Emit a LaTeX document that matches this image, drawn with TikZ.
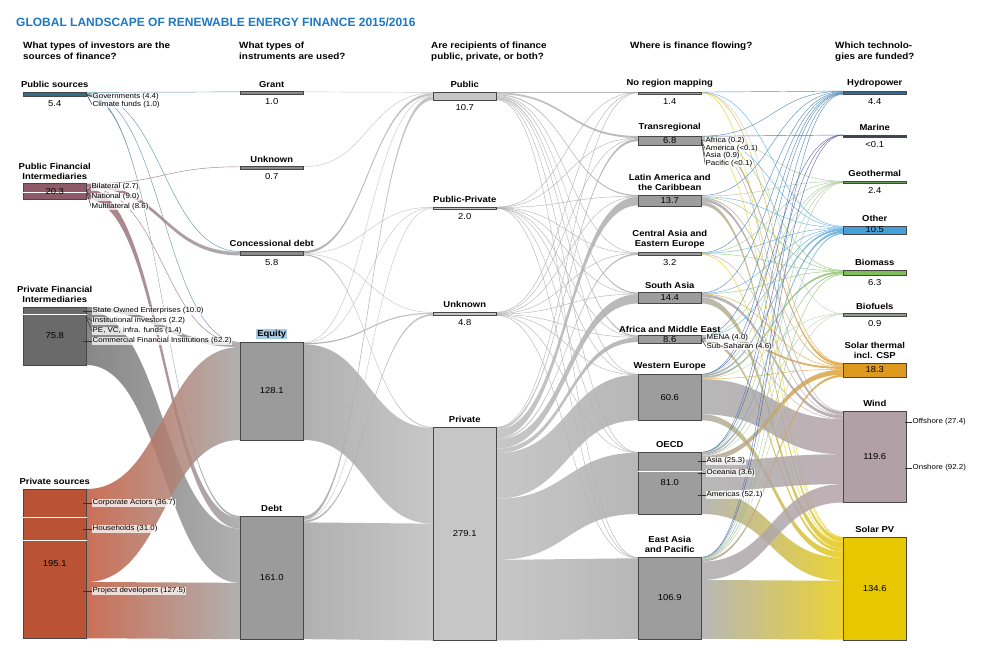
\documentclass[tikz,border=0pt]{standalone}
\usepackage{fontspec}
\setmainfont{Liberation Sans}[FakeStretch=1.1]
\newfontfamily\titlefont{Liberation Sans}
\usetikzlibrary{positioning}

\definecolor{titleblue}{HTML}{1E78C2}
\definecolor{eqhl}{HTML}{A8CBE5}
\definecolor{psbar}{HTML}{2F6E85}     \definecolor{psflow}{HTML}{4D8599}
\definecolor{pfibar}{HTML}{8E5A6A}    \definecolor{pfiflow}{HTML}{9B6676}
\definecolor{prfibar}{HTML}{6A6A6A}   \definecolor{prfiflow}{HTML}{737373}
\definecolor{prsbar}{HTML}{BA5234}    \definecolor{prsflow}{HTML}{C2573A}
\definecolor{thinbar}{HTML}{8A8A8A}
\definecolor{midbar}{HTML}{9B9B9B}    \definecolor{midflow}{HTML}{A3A3A3}
\definecolor{lightbar}{HTML}{C6C6C6}  \definecolor{lightflow}{HTML}{BEBEBE}
\definecolor{regbar}{HTML}{9D9D9D}    \definecolor{regflow}{HTML}{ABABAB}
\definecolor{hydrobar}{HTML}{2C6A98}  \definecolor{hydroflow}{HTML}{3F7EB2}
\definecolor{marinebar}{HTML}{3E4257} \definecolor{marineflow}{HTML}{5552A6}
\definecolor{geobar}{HTML}{6A9A58}    \definecolor{geoflow}{HTML}{A4C692}
\definecolor{otherbar}{HTML}{45A0DA}  \definecolor{otherflow}{HTML}{55AAE0}
\definecolor{biomassbar}{HTML}{7DBE5A}\definecolor{biomassflow}{HTML}{8DC46C}
\definecolor{biofuelbar}{HTML}{8E9C8C}\definecolor{biofuelflow}{HTML}{BCD0AE}
\definecolor{solthbar}{HTML}{DE9A1E}  \definecolor{solthflow}{HTML}{E2A434}
\definecolor{windbar}{HTML}{B1A1A7}   \definecolor{windflow}{HTML}{B3A3A9}
\definecolor{solpvbar}{HTML}{E7C800}  \definecolor{solpvflow}{HTML}{E8CB10}

\pgfdeclarelayer{flows}
\pgfsetlayers{flows,main}

\def\pxu{0.765}
\def\barw{63.5}

% name, left x, top y, value, bar colour, flow colour
\newcommand{\mkbar}[7][2.4]{%
  \expandafter\xdef\csname xl@#2\endcsname{#3}%
  \pgfmathsetmacro\barr{#3+\barw}%
  \expandafter\xdef\csname xr@#2\endcsname{\barr}%
  \expandafter\xdef\csname yo@#2\endcsname{#4}%
  \expandafter\xdef\csname yi@#2\endcsname{#4}%
  \expandafter\xdef\csname fc@#2\endcsname{#7}%
  \pgfmathsetmacro\bh{max(#5*\pxu,#1)}%
  \node[bar, fill=#6, minimum height=\bh pt, anchor=north west] (#2) at (#3,#4) {};%
}

\newcommand{\flow}[4][t]{%
  \pgfmathsetmacro\fh{#4*\pxu}%
  \edef\xa{\csname xr@#2\endcsname}\edef\ya{\csname yo@#2\endcsname}%
  \edef\xb{\csname xl@#3\endcsname}\edef\yb{\csname yi@#3\endcsname}%
  \pgfmathsetmacro\yaa{\ya+\fh}\pgfmathsetmacro\ybb{\yb+\fh}%
  \pgfmathsetmacro\xm{(\xa+\xb)/2}%
  \edef\ca{\csname fc@#2\endcsname}\edef\cb{\csname fc@#3\endcsname}%
  \pgfmathtruncatemacro\isthin{#4<1.3}%
  \ifnum\isthin=1
    \if#1s\edef\cl{\ca}\else\edef\cl{\cb}\fi
    \pgfmathsetmacro\yam{\ya+\fh/2}\pgfmathsetmacro\ybm{\yb+\fh/2}%
    \draw[thinflow, draw=\cl] (\xa,\yam) .. controls (\xm,\yam) and (\xm,\ybm) .. (\xb,\ybm);
  \else
    \shade[band, left color=\ca, right color=\cb] (\xa,\ya) .. controls (\xm,\ya) and (\xm,\yb) .. (\xb,\yb) -- (\xb,\ybb) .. controls (\xm,\ybb) and (\xm,\yaa) .. (\xa,\yaa) -- cycle;
  \fi
  \expandafter\xdef\csname yo@#2\endcsname{\yaa}%
  \expandafter\xdef\csname yi@#3\endcsname{\ybb}%
}

\tikzset{
  bar/.style={draw=black!72, line width=0.5pt, minimum width=\barw pt, inner sep=0pt, outer sep=0pt},
  band/.style={fill opacity=0.85},
  thinflow/.style={line width=0.45pt, draw opacity=0.85},
  lab/.style={font=\bfseries\fontsize{8.6}{10}\selectfont, align=center, inner sep=1pt},
  val/.style={font=\fontsize{8.6}{10}\selectfont, inner sep=1pt},
  sub/.style={font=\fontsize{7.2}{8}\selectfont, anchor=west, inner sep=0.5pt, fill=white, fill opacity=0.75, text opacity=1},
  tick/.style={line width=0.5pt, black!80},
  ask/.style={font=\bfseries\fontsize{9}{11}\selectfont, align=left, anchor=north west, inner sep=0pt},
  split/.style={white, line width=0.8pt},
}

\begin{document}
\begin{tikzpicture}[x=1pt,y=-1pt]
    \begin{pgfonlayer}{flows}
        \fill[white] (0,0) rectangle (981,652);
    \end{pgfonlayer}
    \useasboundingbox (0,0) rectangle (981,652);

    \node[anchor=base west, inner sep=0, text=titleblue, font={\titlefont\bfseries\fontsize{12}{14}\selectfont}] (title) at (16,27)
        {GLOBAL LANDSCAPE OF RENEWABLE ENERGY FINANCE 2015/2016};
    \node[ask] (q1) at (23,42) {What types of investors are the\\sources of finance?};
    \node[ask] (q2) at (239,42) {What types of\\instruments are used?};
    \node[ask] (q3) at (431,42) {Are recipients of finance\\public, private, or both?};
    \node[ask] (q4) at (630,42) {Where is finance flowing?};
    \node[ask] (q5) at (835,42) {Which technolo-\\gies are funded?};

    % sources
    \mkbar{ps}{23}{92}{5.4}{psbar}{psflow}
    \mkbar{pfi}{23}{183.5}{20.3}{pfibar}{pfiflow}
    \mkbar{prfi}{23}{307}{75.8}{prfibar}{prfiflow}
    \mkbar{prs}{23}{489}{195.1}{prsbar}{prsflow}
    % instruments
    \mkbar{grant}{240}{91.5}{1.0}{thinbar}{midflow}
    \mkbar{unkb}{240}{166.5}{0.7}{thinbar}{midflow}
    \mkbar{conc}{240}{251}{5.8}{thinbar}{midflow}
    \mkbar{equity}{240}{342}{128.1}{midbar}{midflow}
    \mkbar{debt}{240}{516}{161.0}{midbar}{midflow}
    % recipients
    \mkbar{public}{433}{92}{10.7}{lightbar}{lightflow}
    \mkbar{pubpriv}{433}{207}{2.0}{lightbar}{lightflow}
    \mkbar{unkc}{433}{312}{4.8}{lightbar}{lightflow}
    \mkbar{private}{433}{427}{279.1}{lightbar}{lightflow}
    % regions
    \mkbar{noreg}{638}{92}{1.4}{regbar}{regflow}
    \mkbar[9]{trans}{638}{136}{6.8}{regbar}{regflow}
    \mkbar[11]{latam}{638}{195}{13.7}{regbar}{regflow}
    \mkbar{casia}{638}{252.5}{3.2}{regbar}{regflow}
    \mkbar[10.5]{sasia}{638}{292.5}{14.4}{regbar}{regflow}
    \mkbar[7.7]{afme}{638}{335.5}{8.6}{regbar}{regflow}
    \mkbar{weur}{638}{374}{60.6}{regbar}{regflow}
    \mkbar{oecd}{638}{452}{81.0}{regbar}{regflow}
    \mkbar{eapac}{638}{557}{106.9}{regbar}{regflow}
    % technologies
    \mkbar{hydro}{843}{91}{4.4}{hydrobar}{hydroflow}
    \mkbar{marine}{843}{135}{0.05}{marinebar}{marineflow}
    \mkbar{geo}{843}{181}{2.4}{geobar}{geoflow}
    \mkbar{other}{843}{226}{10.5}{otherbar}{otherflow}
    \mkbar{biomass}{843}{270}{6.3}{biomassbar}{biomassflow}
    \mkbar{biofuel}{843}{313.5}{0.9}{biofuelbar}{biofuelflow}
    \mkbar{solth}{843}{363}{18.3}{solthbar}{solthflow}
    \mkbar{wind}{843}{411}{119.6}{windbar}{windflow}
    \mkbar{solpv}{843}{537}{134.6}{solpvbar}{solpvflow}

    \begin{pgfonlayer}{flows}
    \foreach \src/\tgt/\val in {ps/grant/1.0, ps/conc/1.2, ps/equity/0.6, ps/debt/2.6,
        pfi/unkb/0.7, pfi/conc/4.6, pfi/equity/1.0, pfi/debt/14.0,
        prfi/equity/5.0, prfi/debt/70.8, prs/equity/121.5, prs/debt/73.6}
        {\flow[s]{\src}{\tgt}{\val}}
    \foreach \src/\tgt/\val in {grant/public/1.0, unkb/public/0.7,
        conc/public/3.0, conc/pubpriv/0.5, conc/unkc/1.0, conc/private/1.3,
        equity/public/1.0, equity/pubpriv/0.5, equity/unkc/1.5, equity/private/125.1,
        debt/public/5.0, debt/pubpriv/1.0, debt/unkc/2.3, debt/private/152.7}
        {\flow{\src}{\tgt}{\val}}
    \foreach \src/\tgt/\val in {public/noreg/0.5, public/trans/2.5, public/latam/1.5, public/casia/0.8, public/sasia/1.5,
        public/afme/1.8, public/weur/0.6, public/oecd/0.5, public/eapac/1.0,
        pubpriv/noreg/0.2, pubpriv/trans/0.3, pubpriv/latam/0.3, pubpriv/casia/0.2, pubpriv/sasia/0.3,
        pubpriv/afme/0.3, pubpriv/weur/0.1, pubpriv/oecd/0.1, pubpriv/eapac/0.2,
        unkc/noreg/0.4, unkc/trans/1.0, unkc/latam/0.6, unkc/casia/0.4, unkc/sasia/0.6,
        unkc/afme/0.6, unkc/weur/0.4, unkc/oecd/0.4, unkc/eapac/0.4,
        private/noreg/0.3, private/trans/3.0, private/latam/11.3, private/casia/1.8, private/sasia/12.0,
        private/afme/5.9, private/weur/59.5, private/oecd/80.0, private/eapac/105.3}
        {\flow{\src}{\tgt}{\val}}
    \foreach \src/\tgt/\val in {noreg/hydro/0.2, noreg/other/0.6, noreg/biofuel/0.1, noreg/solth/0.2, noreg/solpv/0.3,
        trans/hydro/0.4, trans/marine/0.01, trans/geo/0.2, trans/other/1.0, trans/biomass/0.3, trans/solth/3.4, trans/wind/0.8, trans/solpv/0.7,
        latam/hydro/1.0, latam/geo/0.8, latam/other/1.0, latam/biomass/0.6, latam/solth/1.3, latam/wind/4.0, latam/solpv/5.0,
        casia/hydro/0.3, casia/geo/0.2, casia/other/0.8, casia/biomass/0.3, casia/wind/0.8, casia/solpv/0.8,
        sasia/hydro/0.8, sasia/other/0.5, sasia/biomass/0.6, sasia/solth/0.3, sasia/wind/4.0, sasia/solpv/8.2,
        afme/hydro/0.4, afme/geo/0.4, afme/other/0.2, afme/solth/2.5, afme/wind/1.0, afme/solpv/4.1,
        weur/hydro/0.4, weur/marine/0.01, weur/geo/0.3, weur/other/2.2, weur/biomass/2.5, weur/biofuel/0.3, weur/solth/1.0, weur/wind/45.9, weur/solpv/8.0,
        oecd/hydro/0.4, oecd/marine/0.05, oecd/geo/0.3, oecd/other/2.8, oecd/biomass/1.3, oecd/biofuel/0.3, oecd/solth/6.6, oecd/wind/39.1, oecd/solpv/30.15,
        eapac/hydro/0.5, eapac/marine/0.01, eapac/geo/0.2, eapac/other/1.4, eapac/biomass/0.7, eapac/biofuel/0.2, eapac/solth/3.0, eapac/wind/24.0, eapac/solpv/76.9}
        {\flow{\src}{\tgt}{\val}}
    \end{pgfonlayer}

    \draw[split] ([yshift=-9pt]pfi.north west) -- ([yshift=-9pt]pfi.north east);
    \draw[split] ([yshift=-7.7pt]prfi.north west) -- ([yshift=-7.7pt]prfi.north east);
    \draw[split] ([yshift=-28.1pt]prs.north west) -- ([yshift=-28.1pt]prs.north east);
    \draw[split] ([yshift=-51.8pt]prs.north west) -- ([yshift=-51.8pt]prs.north east);
    \draw[split] ([yshift=-19.4pt]oecd.north west) -- ([yshift=-19.4pt]oecd.north east);

    \node[lab, above=3pt of ps] (ps-l) {Public sources};
    \node[val, below=3pt of ps] (ps-v) {5.4};
    \node[lab, above=3pt of pfi] (pfi-l) {Public Financial\\Intermediaries};
    \node[val] (pfi-v) at (pfi.center) {20.3};
    \node[lab, above=3pt of prfi] (prfi-l) {Private Financial\\Intermediaries};
    \node[val] (prfi-v) at (prfi.center) {75.8};
    \node[lab, above=3pt of prs] (prs-l) {Private sources};
    \node[val] (prs-v) at (prs.center) {195.1};

    \node[lab, above=3pt of grant] (grant-l) {Grant};
    \node[val, below=3pt of grant] (grant-v) {1.0};
    \node[lab, above=3pt of unkb] (unkb-l) {Unknown};
    \node[val, below=3pt of unkb] (unkb-v) {0.7};
    \node[lab, above=3pt of conc] (conc-l) {Concessional debt};
    \node[val, below=3pt of conc] (conc-v) {5.8};
    \node[lab, above=3pt of equity, fill=eqhl] (equity-l) {Equity};
    \node[val] (equity-v) at (equity.center) {128.1};
    \node[lab, above=3pt of debt] (debt-l) {Debt};
    \node[val] (debt-v) at (debt.center) {161.0};

    \node[lab, above=3pt of public] (public-l) {Public};
    \node[val, below=3pt of public] (public-v) {10.7};
    \node[lab, above=3pt of pubpriv] (pubpriv-l) {Public-Private};
    \node[val, below=3pt of pubpriv] (pubpriv-v) {2.0};
    \node[lab, above=3pt of unkc] (unkc-l) {Unknown};
    \node[val, below=3pt of unkc] (unkc-v) {4.8};
    \node[lab, above=3pt of private] (private-l) {Private};
    \node[val] (private-v) at (private.center) {279.1};

    \node[lab, above=3pt of noreg] (noreg-l) {No region mapping};
    \node[val, below=3pt of noreg] (noreg-v) {1.4};
    \node[lab, above=3pt of trans] (trans-l) {Transregional};
    \node[val] (trans-v) at (trans.center) {6.8};
    \node[lab, above=3pt of latam] (latam-l) {Latin America and\\the Caribbean};
    \node[val] (latam-v) at (latam.center) {13.7};
    \node[lab, above=3pt of casia] (casia-l) {Central Asia and\\Eastern Europe};
    \node[val, below=3pt of casia] (casia-v) {3.2};
    \node[lab, above=3pt of sasia] (sasia-l) {South Asia};
    \node[val] (sasia-v) at (sasia.center) {14.4};
    \node[lab, above=2pt of afme] (afme-l) {Africa and Middle East};
    \node[val] (afme-v) at (afme.center) {8.6};
    \node[lab, above=3pt of weur] (weur-l) {Western Europe};
    \node[val] (weur-v) at (weur.center) {60.6};
    \node[lab, above=3pt of oecd] (oecd-l) {OECD};
    \node[val] (oecd-v) at (oecd.center) {81.0};
    \node[lab, above=3pt of eapac] (eapac-l) {East Asia\\and Pacific};
    \node[val] (eapac-v) at (eapac.center) {106.9};

    \node[lab, above=3pt of hydro] (hydro-l) {Hydropower};
    \node[val, below=3pt of hydro] (hydro-v) {4.4};
    \node[lab, above=3pt of marine] (marine-l) {Marine};
    \node[val, below=3pt of marine] (marine-v) {<0.1};
    \node[lab, above=3pt of geo] (geo-l) {Geothermal};
    \node[val, below=3pt of geo] (geo-v) {2.4};
    \node[lab, above=3pt of other] (other-l) {Other};
    \node[val] (other-v) at (other.center) {10.5};
    \node[lab, above=3pt of biomass] (biomass-l) {Biomass};
    \node[val, below=3pt of biomass] (biomass-v) {6.3};
    \node[lab, above=3pt of biofuel] (biofuel-l) {Biofuels};
    \node[val, below=3pt of biofuel] (biofuel-v) {0.9};
    \node[lab, above=3pt of solth] (solth-l) {Solar thermal\\incl. CSP};
    \node[val] (solth-v) at (solth.center) {18.3};
    \node[lab, above=3pt of wind] (wind-l) {Wind};
    \node[val] (wind-v) at (wind.center) {119.6};
    \node[lab, above=3pt of solpv] (solpv-l) {Solar PV};
    \node[val] (solpv-v) at (solpv.center) {134.6};

    \node[sub] (gov) at (92,97) {Governments (4.4)};
    \node[sub] (clim) at (92,104.5) {Climate funds (1.0)};
    \draw[tick] (gov.west) -- (ps.east);
    \draw[tick] (clim.west) -- (ps.east);
    \node[sub] (bil) at (91,187) {Bilateral (2.7)};
    \node[sub] (nat) at (91,197) {National (9.0)};
    \node[sub] (mul) at (91,206.5) {Multilateral (8.6)};
    \draw[tick] (bil.west) -- (pfi.east);
    \draw[tick] (nat.west) -- (pfi.east);
    \draw[tick] (mul.west) -- (pfi.east);
    \node[sub] (soe) at (92,311) {State Owned Enterprises (10.0)};
    \node[sub] (inst) at (92,321) {Institutional investors (2.2)};
    \node[sub] (pevc) at (92,331) {PE, VC, infra. funds (1.4)};
    \node[sub] (cfi) at (92,341) {Commercial Financial Institutions (62.2)};
    \draw[tick] (soe.west) -- ++(-9,0);
    \draw[tick] (inst.west) -- ++(-6,-4);
    \draw[tick] (pevc.west) -- ++(-6,-14);
    \draw[tick] (cfi.west) -- ++(-9,0);
    \node[sub] (corp) at (92,503) {Corporate Actors (36.7)};
    \node[sub] (hh) at (92,529) {Households (31.0)};
    \node[sub] (pdev) at (92,591) {Project developers (127.5)};
    \draw[tick] (corp.west) -- ++(-9,0);
    \draw[tick] (hh.west) -- ++(-9,0);
    \draw[tick] (pdev.west) -- ++(-9,0);

    \node[sub] (tafr) at (705,141) {Africa (0.2)};
    \node[sub] (tame) at (705,148.5) {America (<0.1)};
    \node[sub] (tasi) at (705,156) {Asia (0.9)};
    \node[sub] (tpac) at (705,163.5) {Pacific (<0.1)};
    \foreach \t in {tafr,tame,tasi,tpac}
        \draw[tick] (\t.west) -- (trans.east);
    \node[sub] (mena) at (706,338) {MENA (4.0)};
    \node[sub] (ssa) at (706,346.5) {Sub-Saharan (4.6)};
    \draw[tick] (mena.west) -- (afme.east);
    \draw[tick] (ssa.west) -- (afme.east);
    \node[sub] (oasi) at (706,461) {Asia (25.3)};
    \node[sub] (ooce) at (706,473) {Oceania (3.6)};
    \node[sub] (oame) at (706,495) {Americas (52.1)};
    \draw[tick] (oasi.west) -- ++(-8,0);
    \draw[tick] (ooce.west) -- ++(-8,0);
    \draw[tick] (oame.west) -- ++(-8,0);
    \node[sub] (offs) at (912,422) {Offshore (27.4)};
    \node[sub] (onsh) at (912,468) {Onshore (92.2)};
    \draw[tick] (offs.west) -- ++(-7,0);
    \draw[tick] (onsh.west) -- ++(-7,0);
\end{tikzpicture}
\end{document}
